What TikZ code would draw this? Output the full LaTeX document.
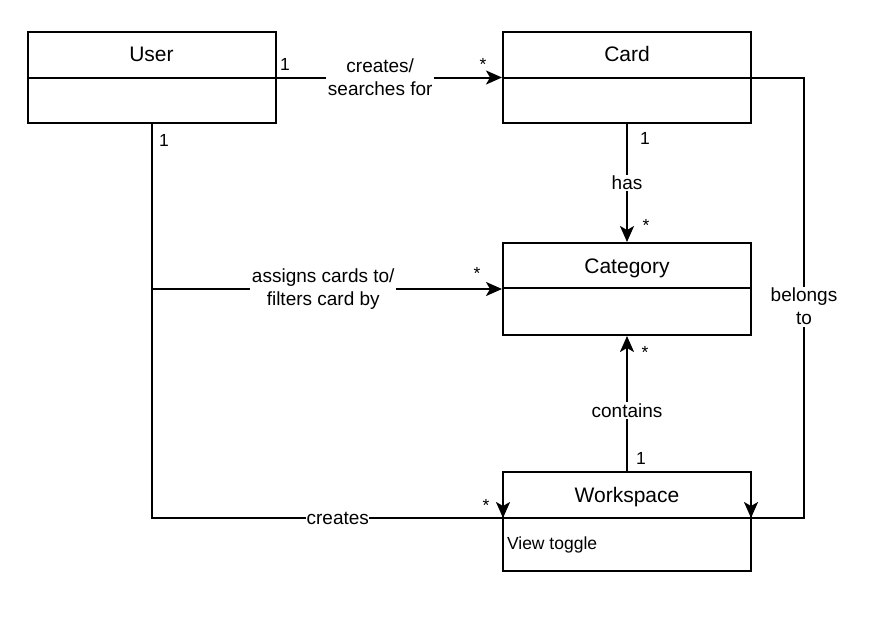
\documentclass[tikz,border=0pt]{standalone}
\usepackage{fontspec}
\setmainfont{Liberation Sans}
\usetikzlibrary{arrows.meta}
\begin{document}
\begin{tikzpicture}[x=1pt,y=-1pt,
  line width=2pt,
  classbox/.style={draw,line width=2pt,minimum width=248pt,inner sep=0pt},
  ttl/.style={anchor=base,inner sep=0pt,font=\fontsize{21}{24}\selectfont},
  lbl/.style={fill=white,align=center,inner sep=1.5pt,font=\fontsize{19}{23}\selectfont},
  mult/.style={inner sep=0pt,font=\fontsize{17.5}{20}\selectfont},
  arr/.style={-{Stealth[length=16pt,width=14pt,inset=4pt]}}]
\useasboundingbox (0,0) rectangle (890,626);
% class boxes
\node[classbox,minimum height=91pt] (user) at (151.5,77.5) {};
\node[classbox,minimum height=91pt] (card) at (627,77.5) {};
\node[classbox,minimum height=92pt] (category) at (627,289) {};
\node[classbox,minimum height=99pt] (ws) at (627,521.5) {};
% dividers
\draw (user.west) -- (user.east);
\draw (card.west) -- (card.east);
\draw (503,288) -- (751,288);
\coordinate (wsL) at (503,518);
\coordinate (wsR) at (751,518);
\draw (wsL) -- (wsR);
% titles
\node[ttl] (tuser) at (151.5,62) {User};
\node[ttl] (tcard) at (627,62) {Card};
\node[ttl] (tcat) at (627,273) {Category};
\node[ttl] (tws) at (627,502.5) {Workspace};
\node[anchor=west,inner sep=0pt,font=\fontsize{17.5}{20}\selectfont] (attr) at (506,545) {View toggle};
% connectors
\draw[arr] (user.east) -- node[lbl,pos=0.46] (l1) {creates/\\searches for} (card.west);
\draw (user.south) -- (user.south |- wsL) -- node[lbl,pos=0.53,inner sep=0.5pt] (l5) {creates} (wsL);
\draw[arr] (user.south |- category.west) -- node[lbl,pos=0.49] (l2) {assigns cards to/\\filters card by} (category.west);
\draw[arr] (card.south) -- node[lbl,pos=0.5] (l3) {has} (category.north);
\draw[arr] (ws.north) -- node[lbl,pos=0.445] (l4) {contains} (category.south);
\draw (card.east) -- ++(52,0) |- node[lbl,pos=0.26] (l6) {belongs\\to} (wsR);
% downward arrowheads at workspace
\draw[arr] ([yshift=16pt]wsL) -- (wsL);
\draw[arr] ([yshift=16pt]wsR) -- (wsR);
% multiplicities
\node[mult] (m1) at (285,64) {1};
\node[mult] (m2) at (483,64) {*};
\node[mult] (m3) at (164,140) {1};
\node[mult] (m4) at (477,273) {*};
\node[mult] (m5) at (645,138) {1};
\node[mult] (m6) at (646,225) {*};
\node[mult] (m7) at (645,352) {*};
\node[mult] (m8) at (641,458) {1};
\node[mult] (m9) at (486,505) {*};
\end{tikzpicture}
\end{document}
